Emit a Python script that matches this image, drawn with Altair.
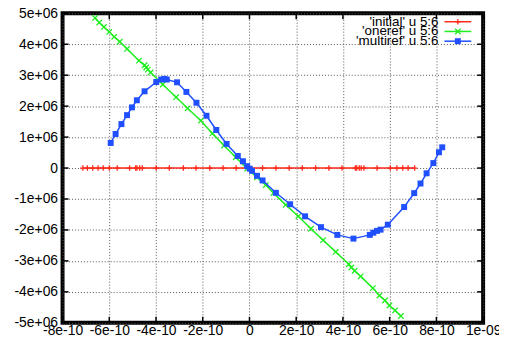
import json
import altair as alt
import pandas as pd

series_names = ["'initial' u 5:6", "'oneref' u 5:6", "'multiref' u 5:6"]
series_colors = ["#ff2a1a", "#1fee1f", "#1f4fff"]

initial_x = [-7.13e-10, -6.94e-10, -6.71e-10, -6.48e-10, -6.26e-10, -6.00e-10, -5.66e-10,
             -5.13e-10, -4.87e-10, -4.82e-10, -4.70e-10, -4.59e-10, -3.99e-10, -3.43e-10,
             -2.83e-10, -2.29e-10, -1.70e-10, -1.13e-10, -0.57e-10, 0.0, 0.56e-10, 1.13e-10,
             1.70e-10, 2.26e-10, 2.83e-10, 3.40e-10, 3.96e-10, 4.53e-10, 4.59e-10, 4.70e-10,
             4.78e-10, 4.90e-10, 5.46e-10, 6.03e-10, 6.31e-10, 6.56e-10, 6.79e-10, 7.07e-10]
initial_y = [0, 0, 0, 0, 0, 0, 0, 0, 0, 0, 0, 0, 0, 0, 0, 0, 0, 0, 0,
             0, 0, 0, 0, 0, 0, 0, 0, 0, 0, 0, 0, 0, 0, 0, 0, 0, 0, 0]

oneref_x = [-6.61e-10, -6.43e-10, -6.23e-10, -6.00e-10, -5.79e-10, -5.55e-10, -5.24e-10,
            -4.73e-10, -4.49e-10, -4.42e-10, -4.35e-10, -4.23e-10, -3.71e-10, -3.14e-10,
            -2.65e-10, -2.08e-10, -1.59e-10, -1.09e-10, -0.59e-10, -0.10e-10, 0.32e-10,
            0.70e-10, 1.03e-10, 1.55e-10, 2.09e-10, 2.63e-10, 3.15e-10, 3.69e-10, 4.25e-10,
            4.36e-10, 4.50e-10, 4.76e-10, 5.28e-10, 5.56e-10, 5.80e-10, 5.99e-10, 6.23e-10,
            6.48e-10]
oneref_y = [4.85e6, 4.70e6, 4.56e6, 4.40e6, 4.24e6, 4.08e6, 3.85e6, 3.47e6, 3.32e6, 3.25e6,
            3.18e6, 3.09e6, 2.70e6, 2.29e6, 1.93e6, 1.53e6, 1.12e6, 0.73e6, 0.35e6, -0.02e6,
            -0.30e6, -0.55e6, -0.81e6, -1.19e6, -1.56e6, -1.96e6, -2.33e6, -2.71e6, -3.11e6,
            -3.21e6, -3.32e6, -3.50e6, -3.88e6, -4.12e6, -4.28e6, -4.44e6, -4.60e6, -4.78e6]

multiref_x = [-5.94e-10, -5.73e-10, -5.48e-10, -5.24e-10, -5.03e-10, -4.82e-10, -4.49e-10,
              -3.99e-10, -3.78e-10, -3.64e-10, -3.54e-10, -3.10e-10, -2.70e-10, -2.27e-10,
              -1.84e-10, -1.42e-10, -0.98e-10, -0.50e-10, -0.28e-10, -0.10e-10, 0.01e-10,
              0.11e-10, 0.32e-10, 0.56e-10, 1.13e-10, 1.74e-10, 2.38e-10, 3.06e-10, 3.76e-10,
              4.45e-10, 5.15e-10, 5.30e-10, 5.46e-10, 5.61e-10, 5.92e-10, 6.62e-10, 7.05e-10,
              7.32e-10, 7.58e-10, 7.87e-10, 8.11e-10, 8.25e-10]
multiref_y = [0.81e6, 1.10e6, 1.42e6, 1.71e6, 1.96e6, 2.19e6, 2.48e6, 2.78e6, 2.86e6, 2.88e6,
              2.86e6, 2.77e6, 2.46e6, 2.11e6, 1.69e6, 1.23e6, 0.78e6, 0.39e6, 0.22e6, 0.06e6,
              -0.02e6, -0.09e6, -0.25e6, -0.40e6, -0.80e6, -1.17e6, -1.56e6, -1.91e6, -2.16e6,
              -2.28e6, -2.16e6, -2.09e6, -2.03e6, -1.99e6, -1.83e6, -1.26e6, -0.81e6, -0.50e6,
              -0.17e6, 0.16e6, 0.51e6, 0.67e6]

x_ticks = [-8e-10, -6e-10, -4e-10, -2e-10, 0, 2e-10, 4e-10, 6e-10, 8e-10, 1e-9]
x_tick_labels = ["-8e-10", "-6e-10", "-4e-10", "-2e-10", "0", "2e-10", "4e-10", "6e-10", "8e-10", "1e-09"]
y_ticks = [-5e6, -4e6, -3e6, -2e6, -1e6, 0, 1e6, 2e6, 3e6, 4e6, 5e6]
y_tick_labels = ["-5e+06", "-4e+06", "-3e+06", "-2e+06", "-1e+06", "0",
                 "1e+06", "2e+06", "3e+06", "4e+06", "5e+06"]

W, H = 424, 312
FONT = "Liberation Sans"

x_scale = alt.Scale(domain=[-8e-10, 1e-9], nice=False, zero=False)
y_scale = alt.Scale(domain=[-5e6, 5e6], nice=False, zero=False)


def label_expr(vals, labels):
    return "[%s][indexof([%s], datum.value)]" % (
        ",".join(json.dumps(l) for l in labels), ",".join(json.dumps(v) for v in vals))


x_axis = alt.Axis(values=x_ticks, labelExpr=label_expr(x_ticks, x_tick_labels), grid=True,
                  ticks=False, domain=False, title=None, labelFont=FONT, labelFontSize=14,
                  labelColor="black", labelPadding=1, labelFlush=False, labelOverlap=False,
                  gridColor="#555", gridDash=[1, 2], gridWidth=1, gridOpacity=1)
y_axis = alt.Axis(values=y_ticks, labelExpr=label_expr(y_ticks, y_tick_labels), grid=True,
                  ticks=False, domain=False, title=None, labelFont=FONT, labelFontSize=14,
                  labelColor="black", labelPadding=5, labelFlush=False, labelOverlap=False,
                  gridColor="#555", gridDash=[1, 2], gridWidth=1, gridOpacity=1)

plus_path = "M-1,0L1,0M0,-1L0,1"
x_path = "M-1,-1L1,1M-1,1L1,-1"

layers = []
for name, color, xs, ys, shape, filled, size in [
    (series_names[0], series_colors[0], initial_x, initial_y, plus_path, False, 30),
    (series_names[1], series_colors[1], oneref_x, oneref_y, x_path, False, 30),
    (series_names[2], series_colors[2], multiref_x, multiref_y, "square", True, 36),
]:
    df = pd.DataFrame({"x": xs, "y": ys, "i": list(range(len(xs)))})
    xe = alt.X("x:Q", scale=x_scale, axis=x_axis)
    ye = alt.Y("y:Q", scale=y_scale, axis=y_axis)
    line = alt.Chart(df).mark_line(color=color, strokeWidth=1.5).encode(x=xe, y=ye, order="i:Q")
    if filled:
        pts = alt.Chart(df).mark_point(shape=shape, filled=True, color=color, size=size,
                                       opacity=1).encode(x=xe, y=ye)
    else:
        pts = alt.Chart(df).mark_point(shape=shape, filled=False, color=color, size=size,
                                       strokeWidth=1.3, opacity=1).encode(x=xe, y=ye)
    layers += [line, pts]

# inward border ticks (gnuplot style)
xt = pd.DataFrame({"x": x_ticks})
yt = pd.DataFrame({"y": y_ticks})
for y0, y1 in [(H, H - 6), (0, 6)]:
    layers.append(alt.Chart(xt).mark_rule(color="black", strokeWidth=1.5).encode(
        x=alt.X("x:Q", scale=x_scale, axis=x_axis), y=alt.value(y0), y2=alt.value(y1)))
for x0, x1 in [(0, 6), (W, W - 6)]:
    layers.append(alt.Chart(yt).mark_rule(color="black", strokeWidth=1.5).encode(
        y=alt.Y("y:Q", scale=y_scale, axis=y_axis), x=alt.value(x0), x2=alt.value(x1)))

# legend (top right, inside)
for i, (name, color) in enumerate(zip(series_names, series_colors)):
    ly = 8.5 + 9.8 * i
    ldf = pd.DataFrame({"label": [name]})
    layers.append(alt.Chart(ldf).mark_text(align="right", baseline="middle", font=FONT,
                                           fontSize=13.5, color="black").encode(
        text="label:N", x=alt.value(379), y=alt.value(ly)))
    layers.append(alt.Chart(ldf).mark_rule(color=color, strokeWidth=1.5).encode(
        x=alt.value(385), x2=alt.value(412), y=alt.value(ly)))
    shape = [plus_path, x_path, "square"][i]
    layers.append(alt.Chart(ldf).mark_point(shape=shape, filled=(i == 2), color=color,
                                            size=36 if i == 2 else 30,
                                            strokeWidth=1.3, opacity=1).encode(
        x=alt.value(398.5), y=alt.value(ly)))

chart = alt.layer(*layers).properties(
    width=W, height=H,
    background="white",
    autosize=alt.AutoSizeParams(type="none"),
    padding={"left": 55, "top": 4, "right": 16, "bottom": 15},
).configure_view(stroke="black", strokeWidth=4)

chart.save("out.html", embed_options={"renderer": "svg", "actions": False})
